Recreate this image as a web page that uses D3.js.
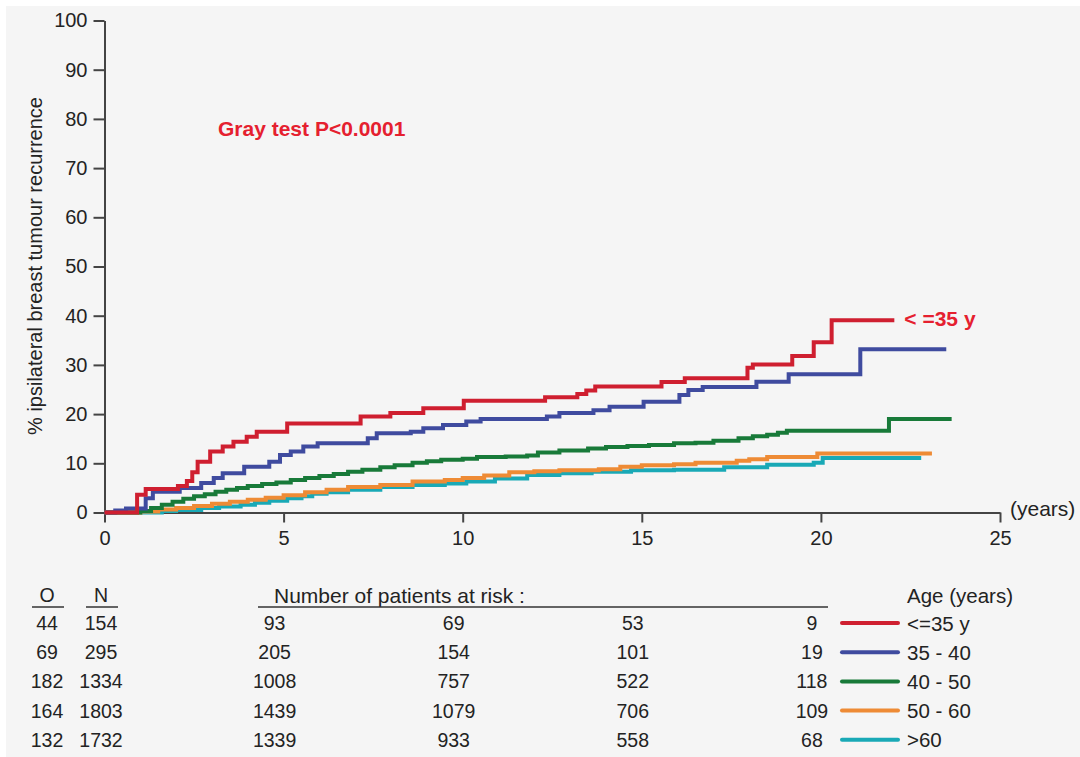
<!DOCTYPE html>
<html>
<head>
<meta charset="utf-8">
<script src="https://cdn.jsdelivr.net/npm/d3@7"></script>
<style>
  html, body { margin: 0; padding: 0; background: #ffffff; }
  svg { display: block; font-family: "Liberation Sans", Arial, Helvetica, sans-serif; }
</style>
</head>
<body>
<svg id="chart" width="1080" height="757"></svg>
<script>
// Cumulative incidence of ipsilateral breast tumour recurrence by age group
const groups = ["<=35 y", "35 - 40", "40 - 50", "50 - 60", ">60"];
const events = [44, 69, 182, 164, 132];          // O
const patients = [154, 295, 1334, 1803, 1732];   // N
const riskYears = [5, 10, 15, 20];
const atRisk = [
  [93, 69, 53, 9],
  [205, 154, 101, 19],
  [1008, 757, 522, 118],
  [1439, 1079, 706, 109],
  [1339, 933, 558, 68]
];
const xTicks = [0, 5, 10, 15, 20, 25];
const yTicks = [0, 10, 20, 30, 40, 50, 60, 70, 80, 90, 100];

// step curves: [years, % recurrence]
const curveLE35 = [[0,0],[0.91,3.6],[1.15,4.8],[2.05,5.4],[2.3,6.4],[2.45,8.2],[2.6,10.3],[2.95,12.4],[3.3,13.4],[3.6,14.4],[3.97,15.4],[4.25,16.4],[5.1,18.1],[7.15,19.5],[7.98,20.2],[8.9,21.2],[10.03,22.7],[12.3,23.4],[13.2,24.1],[13.45,24.8],[13.7,25.6],[15.55,26.5],[16.2,27.3],[17.95,29.4],[18.1,30.1],[19.2,31.8],[19.8,34.6],[20.3,39.1],[22.05,39.1]];
const curve35to40 = [[0,0],[0.3,0.4],[0.6,0.8],[1.15,2.9],[1.35,4.2],[2.1,5],[2.7,6],[3.05,7],[3.3,8],[3.9,9.3],[4.6,10.3],[4.9,11.7],[5.2,12.4],[5.55,13.4],[5.95,14.1],[7.35,15.1],[7.6,16.1],[8.55,16.4],[8.9,17.1],[9.45,17.8],[10.1,18.5],[10.5,19.0],[12.35,19.5],[12.7,20.2],[13.65,20.8],[14.1,21.5],[15.05,22.5],[16.05,23.9],[16.3,24.9],[16.7,25.5],[18.2,26.6],[19.1,28.1],[21.1,33.2],[23.5,33.2]];
const curve40to50 = [[0,0],[0.8,0],[1.0,0.3],[1.3,0.9],[1.6,1.6],[1.9,2.2],[2.2,2.8],[2.5,3.3],[2.8,3.7],[3.1,4.2],[3.4,4.6],[3.7,5.0],[4.0,5.4],[4.4,5.8],[4.8,6.1],[5.2,6.6],[5.6,7.0],[6.0,7.4],[6.4,7.8],[6.8,8.3],[7.2,8.7],[7.7,9.2],[8.1,9.6],[8.6,10.1],[9.0,10.4],[9.4,10.7],[10.0,10.9],[10.4,11.3],[11.2,11.4],[11.8,11.6],[12.1,12.2],[12.7,12.6],[13.5,13.0],[14.0,13.3],[14.6,13.5],[15.2,13.7],[15.9,14.1],[16.5,14.2],[17.0,14.6],[17.7,15.1],[18.1,15.5],[18.5,15.8],[18.8,16.2],[19.05,16.6],[21.9,19.0],[23.65,19.0]];
const curve50to60 = [[0,0],[0.7,0],[1.0,0.2],[1.5,0.6],[2.0,0.9],[2.5,1.3],[3.0,1.8],[3.5,2.2],[4.0,2.6],[4.5,3.0],[5.0,3.5],[5.6,4.1],[6.2,4.6],[6.8,5.2],[7.7,5.6],[8.6,6.3],[9.5,6.6],[10.0,7.0],[10.6,7.5],[11.3,8.2],[12.0,8.4],[12.7,8.6],[13.8,8.8],[14.4,9.3],[15.0,9.6],[15.9,9.8],[16.5,10.1],[17.65,10.5],[18.0,10.8],[18.5,11.3],[19.9,12.0],[23.1,12.0]];
const curveGT60 = [[0,0],[1.2,0],[1.6,0.3],[2.0,0.5],[2.7,0.9],[3.2,1.2],[3.8,1.6],[4.2,2.0],[4.6,2.4],[5.1,2.9],[5.5,3.3],[5.8,3.8],[6.2,4.1],[6.8,4.6],[7.7,5.2],[8.6,5.6],[9.5,5.9],[10.1,6.3],[10.9,6.9],[11.8,7.6],[12.7,8.0],[13.6,8.3],[14.7,8.6],[15.9,8.7],[17.3,9.2],[18.5,9.7],[19.8,10.1],[20.05,11.1],[22.8,11.1]];
const curves = [curveLE35, curve35to40, curve40to50, curve50to60, curveGT60];

const palette = ["#cf1f30", "#3f4b9f", "#187a39", "#ee8b35", "#19a9b6"];
const ink = "#232323";

const svg = d3.select("#chart");
svg.append("rect").attr("x", 6).attr("y", 6).attr("width", 1074).attr("height", 751).attr("fill", "#f5f5f5");

const x = d3.scaleLinear().domain([0, 25]).range([104.5, 1000]);
const y = d3.scaleLinear().domain([0, 100]).range([512.5, 20.5]);

// axes
const gx = svg.append("g").attr("transform", `translate(0,${y(0)})`)
  .call(d3.axisBottom(x).tickValues(xTicks).tickSize(10).tickSizeOuter(0).tickPadding(8));
const gy = svg.append("g").attr("transform", `translate(${x(0)},0)`)
  .call(d3.axisLeft(y).tickValues(yTicks).tickSize(11).tickSizeOuter(0).tickPadding(6));
[gx, gy].forEach(g => {
  g.select(".domain").attr("stroke", "#444").attr("stroke-width", 2);
  g.selectAll(".tick line").attr("stroke", "#444").attr("stroke-width", 2);
  g.selectAll(".tick text").attr("fill", ink).style("font-size", "20px")
    .style("font-family", "'Liberation Sans', Arial, sans-serif");
});

svg.append("text").attr("x", 1010).attr("y", 508).attr("dominant-baseline", "central")
  .attr("fill", ink).style("font-size", "21px").text("(years)");

svg.append("text")
  .attr("transform", `translate(35,266) rotate(-90)`)
  .attr("text-anchor", "middle").attr("dominant-baseline", "central")
  .attr("fill", ink).style("font-size", "20px")
  .text("% ipsilateral breast tumour recurrence");

svg.append("text").attr("x", 218).attr("y", 128).attr("dominant-baseline", "central")
  .attr("fill", "#e5202f").style("font-size", "21px").style("font-weight", "bold")
  .text("Gray test P<0.0001");

// curves, drawn from the lowest group upwards so the youngest stays on top
const line = d3.line().x(d => x(d[0])).y(d => y(d[1])).curve(d3.curveStepAfter);
const order = [4, 3, 2, 1, 0];
svg.append("g").selectAll("path").data(order).join("path")
  .attr("d", i => line(curves[i]))
  .attr("fill", "none").attr("stroke", i => palette[i])
  .attr("stroke-width", 4).attr("stroke-linejoin", "miter");

const lastRed = curveLE35[curveLE35.length - 1];
svg.append("text").attr("x", x(lastRed[0]) + 10).attr("y", y(lastRed[1]) - 2)
  .attr("dominant-baseline", "central")
  .attr("fill", "#e5202f").style("font-size", "21px").style("font-weight", "bold")
  .text("< =35 y");

// table of events, patients and numbers at risk
const headY = 595;
const rowY = i => 623 + i * 29.2;
const tbl = svg.append("g").attr("fill", ink).style("font-size", "19.5px");
const colO = 47, colN = 101;
tbl.append("text").attr("x", colO).attr("y", headY).attr("text-anchor", "middle").attr("dominant-baseline", "central").text("O");
tbl.append("text").attr("x", colN).attr("y", headY).attr("text-anchor", "middle").attr("dominant-baseline", "central").text("N");
tbl.append("text").attr("x", 274).attr("y", headY).attr("dominant-baseline", "central")
  .style("font-size", "21px").text("Number of patients at risk :");
tbl.append("text").attr("x", 907).attr("y", headY).attr("dominant-baseline", "central")
  .style("font-size", "20.5px").text("Age (years)");

const rules = [[32, 64], [86, 118], [258, 828]];
svg.append("g").selectAll("line").data(rules).join("line")
  .attr("x1", d => d[0]).attr("x2", d => d[1]).attr("y1", 607).attr("y2", 607)
  .attr("stroke", "#333").attr("stroke-width", 1.5);

groups.forEach((g, i) => {
  const ry = rowY(i);
  tbl.append("text").attr("x", colO).attr("y", ry).attr("text-anchor", "middle").attr("dominant-baseline", "central").text(events[i]);
  tbl.append("text").attr("x", colN).attr("y", ry).attr("text-anchor", "middle").attr("dominant-baseline", "central").text(patients[i]);
  atRisk[i].forEach((v, j) => {
    tbl.append("text").attr("x", x(riskYears[j]) - 9).attr("y", ry)
      .attr("text-anchor", "middle").attr("dominant-baseline", "central").text(v);
  });
  svg.append("line").attr("x1", 842).attr("x2", 898).attr("y1", ry).attr("y2", ry)
    .attr("stroke", palette[i]).attr("stroke-width", 4).attr("stroke-linecap", "round");
  tbl.append("text").attr("x", 907).attr("y", ry).attr("dominant-baseline", "central")
    .style("font-size", "20.5px").text(g);
});
</script>
</body>
</html>
